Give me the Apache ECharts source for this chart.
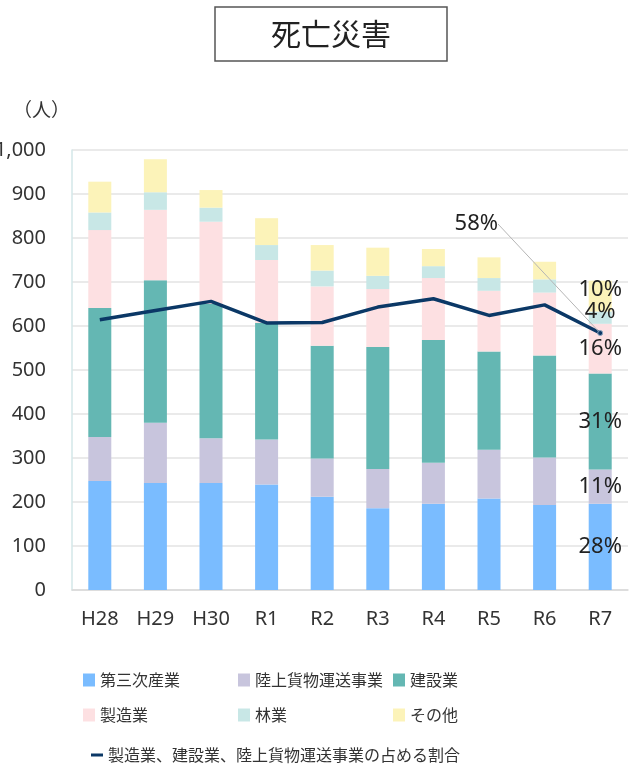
<!DOCTYPE html>
<html>
	<head>
		<meta charset="UTF-8">
		<title>死亡災害</title>
		<script src="https://cdn.jsdelivr.net/npm/echarts@6/dist/echarts.min.js"></script>
		<style>
			html, body { margin: 0; padding: 0; background: #fff; }
			#main { width: 640px; height: 775px; }
		</style>
	</head>
	<body>
		<div id="main"></div>
		<script>
			// 年度
			var years = ['H28', 'H29', 'H30', 'R1', 'R2', 'R3', 'R4', 'R5', 'R6', 'R7'];
			// 業種別の死亡者数（人）
			var tertiary = [248, 243, 243, 240, 212, 186, 196, 208, 193, 196];
			var freight = [100, 137, 102, 102, 87, 89, 93, 111, 108, 78];
			var construction = [293, 324, 305, 265, 256, 277, 279, 223, 232, 218];
			var manufacturing = [177, 160, 187, 143, 135, 132, 141, 138, 143, 113];
			var forestry = [40, 40, 32, 34, 36, 30, 27, 29, 30, 28];
			var others = [70, 75, 40, 61, 58, 64, 39, 47, 40, 70];
			// 製造業、建設業、陸上貨物運送事業の占める割合（％）
			var shareRate = [61.4, 63.5, 65.6, 60.7, 60.8, 64.3, 66.2, 62.4, 64.8, 58.4];
			// R7 の構成比ラベル
			var r7Labels = ['28%', '11%', '31%', '16%', '4%', '10%'];
			var r7LineLabel = '58%';

			var numFont = 'Noto Sans';
			var cjkFont = '"Noto Sans CJK JP", "Noto Sans", sans-serif';

			var chart = echarts.init(document.getElementById('main'));

			// 積み上げ棒のデータ作成（最終年度だけ構成比ラベルを表示）
			function barData(arr, idx, dy) {
				return arr.map(function (v, i) {
					if (i !== arr.length - 1) return v;
					return {
						value: v,
						label: {
							show: true,
							position: 'inside',
							offset: [0, dy || 0],
							formatter: r7Labels[idx],
							color: '#222',
							fontFamily: numFont,
							fontSize: 22
						}
					};
				});
			}

			function barSeries(name, arr, color, idx, dy) {
				return {
					name: name,
					type: 'bar',
					stack: 'total',
					barWidth: 23,
					itemStyle: { color: color },
					data: barData(arr, idx, dy)
				};
			}

			var lineData = shareRate.map(function (v, i) {
				if (i !== shareRate.length - 1) return v;
				return {
					value: v,
					symbolSize: 5,
					label: {
						show: true,
						formatter: r7LineLabel,
						color: '#222',
						fontFamily: numFont,
						fontSize: 22
					}
				};
			});

			var legendText = { color: '#333', fontFamily: cjkFont, fontSize: 16 };

			var option = {
				animation: false,
				title: [{
					text: '死亡災害',
					left: 215,
					top: 7,
					padding: [12, 56, 12, 56],
					borderColor: '#555',
					borderWidth: 1.5,
					textStyle: { color: '#222', fontFamily: cjkFont, fontSize: 30, fontWeight: 'normal' }
				}, {
					text: '（人）',
					left: 8,
					top: 95,
					textStyle: { color: '#333', fontFamily: cjkFont, fontSize: 19, fontWeight: 'normal' }
				}],
				legend: [{
					data: ['第三次産業', '製造業'],
					orient: 'vertical', left: 78, top: 667, itemGap: 19,
					itemWidth: 12, itemHeight: 13, icon: 'rect', textStyle: legendText
				}, {
					data: ['陸上貨物運送事業', '林業'],
					orient: 'vertical', left: 233, top: 667, itemGap: 19,
					itemWidth: 12, itemHeight: 13, icon: 'rect', textStyle: legendText
				}, {
					data: ['建設業', 'その他'],
					orient: 'vertical', left: 388, top: 667, itemGap: 19,
					itemWidth: 12, itemHeight: 13, icon: 'rect', textStyle: legendText
				}, {
					data: ['製造業、建設業、陸上貨物運送事業の占める割合'],
					left: 86, top: 742,
					itemWidth: 12, itemHeight: 3, icon: 'rect',
					itemStyle: { borderWidth: 0 },
					textStyle: legendText
				}],
				grid: { left: 72, right: 12, top: 150, bottom: 185, containLabel: false, outerBoundsMode: 'none' },
				xAxis: {
					type: 'category',
					data: years,
					axisLine: { lineStyle: { color: '#d9d9d9', width: 1.5 } },
					axisTick: { show: false },
					axisLabel: { color: '#333', fontFamily: numFont, fontSize: 20, margin: 19 }
				},
				yAxis: [{
					type: 'value',
					min: 0,
					max: 1000,
					interval: 100,
					axisLine: { show: true, lineStyle: { color: '#d3e7e9', width: 1.5 } },
					axisTick: { show: false },
					splitLine: { lineStyle: { color: '#e3e3e3', width: 1.5 } },
					axisLabel: {
						color: '#333', fontFamily: numFont, fontSize: 20, margin: 26,
						formatter: function (v) { return v.toLocaleString('en-US'); }
					}
				}, {
					type: 'value',
					min: 0,
					max: 100,
					show: false
				}],
				series: [
					barSeries('第三次産業', tertiary, '#7abcff', 0),
					barSeries('陸上貨物運送事業', freight, '#c8c5dd', 1),
					barSeries('建設業', construction, '#64b7b3', 2),
					barSeries('製造業', manufacturing, '#fde0e2', 3),
					barSeries('林業', forestry, '#c8e7e6', 4, -6),
					barSeries('その他', others, '#fcf3b9', 5, -6),
					{
						name: '製造業、建設業、陸上貨物運送事業の占める割合',
						type: 'line',
						yAxisIndex: 1,
						z: 5,
						symbol: 'circle',
						symbolSize: 0,
						itemStyle: { color: '#0b3866', borderColor: '#8fa6c0', borderWidth: 1 },
						lineStyle: { color: '#0b3866', width: 3.5 },
						labelLine: { show: true, lineStyle: { color: '#b5b5b5', width: 1 } },
						labelLayout: function (p) {
							if (p.dataIndex !== shareRate.length - 1) return {};
							return { x: 498, y: 224, align: 'right', verticalAlign: 'middle' };
						},
						data: lineData
					}
				]
			};

			chart.setOption(option);
		</script>
	</body>
</html>
